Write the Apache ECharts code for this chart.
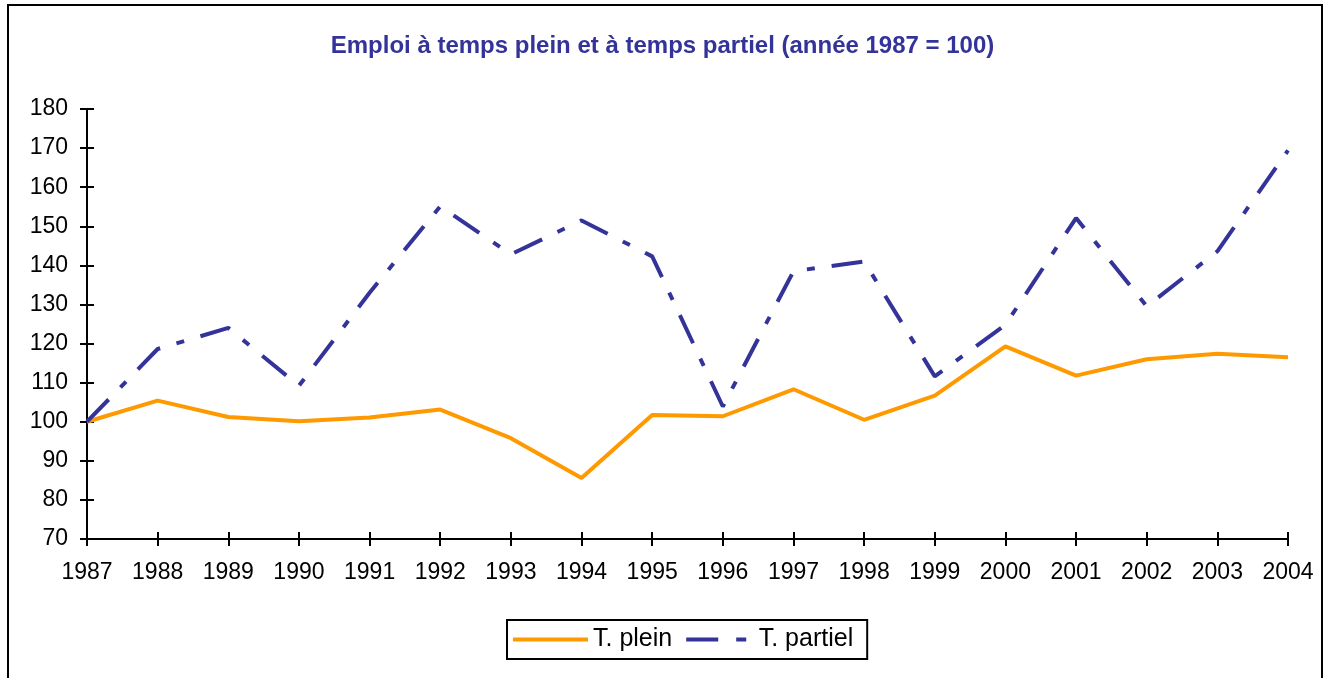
<!DOCTYPE html>
<html>
<head>
<meta charset="utf-8">
<script src="https://cdn.jsdelivr.net/npm/echarts@6/dist/echarts.min.js"></script>
<style>
  html, body { margin: 0; padding: 0; background: #fff; }
  #chart { width: 1325px; height: 678px; }
</style>
</head>
<body>
<div id="chart"></div>
<script>
// données
var years = ['1987', '1988', '1989', '1990', '1991', '1992', '1993', '1994', '1995',
  '1996', '1997', '1998', '1999', '2000', '2001', '2002', '2003', '2004']
var tPlein = [100, 105.4, 101.2, 100.1, 101.1, 103.1, 95.8, 85.6, 101.7,
  101.4, 108.3, 100.5, 106.7, 119.3, 111.8, 116.0, 117.4, 116.5]
var tPartiel = [100, 118.6, 124.0, 109.2, 133.0, 155.1, 142.8, 151.5, 142.3,
  103.9, 138.5, 141.0, 111.6, 124.8, 152.1, 129.5, 143.6, 169.4]
var yMin = 70
var yMax = 180
var yStep = 10

var font = 'Liberation Sans, Arial, sans-serif'
var axisColor = '#000'

// deux axes superposés pour avoir des graduations des deux côtés
function xAxisDef(inside, showLabel) {
  return {
    type: 'category',
    data: years,
    position: 'bottom',
    boundaryGap: false,
    axisLine: { show: true, lineStyle: { color: axisColor, width: 2 } },
    axisTick: { show: true, inside: inside, length: 7, lineStyle: { color: axisColor, width: 2 } },
    axisLabel: { show: showLabel, color: '#000', fontSize: 23, fontFamily: font, margin: 22 },
    splitLine: { show: false }
  }
}

function yAxisDef(inside, showLabel) {
  return {
    type: 'value',
    position: 'left',
    min: yMin,
    max: yMax,
    interval: yStep,
    axisLine: { show: true, lineStyle: { color: axisColor, width: 2 } },
    axisTick: { show: true, inside: inside, length: 7, lineStyle: { color: axisColor, width: 2 } },
    axisLabel: { show: showLabel, color: '#000', fontSize: 23, fontFamily: font, margin: 19 },
    splitLine: { show: false }
  }
}

var option = {
  animation: false,
  backgroundColor: '#fff',
  title: {
    text: 'Emploi à temps plein et à temps partiel (année 1987 = 100)',
    left: 'center',
    top: 29,
    textStyle: { color: '#333399', fontSize: 24, fontWeight: 'bold', fontFamily: font }
  },
  legend: {
    left: 507,
    top: 620,
    padding: [7, 14, 7, 6],
    borderColor: '#000',
    borderWidth: 2,
    itemWidth: 75,
    itemHeight: 4,
    itemGap: 14,
    textStyle: { color: '#000', fontSize: 25, fontFamily: font },
    data: [
      { name: 'T. plein', icon: 'path://M0 0H75V4H0Z' },
      { name: 'T. partiel', icon: 'path://M0 0H32V4H0Z M50 0H60V4H50Z' }
    ]
  },
  grid: { left: 87, right: 37, top: 109, bottom: 139 },
  xAxis: [xAxisDef(false, true), xAxisDef(true, false)],
  yAxis: [yAxisDef(false, true), yAxisDef(true, false)],
  graphic: [{
    type: 'rect',
    shape: { x: 8, y: 5, width: 1314, height: 700 },
    style: { fill: 'none', stroke: '#000', lineWidth: 2 },
    silent: true
  }],
  series: [{
    name: 'T. plein',
    type: 'line',
    data: tPlein,
    symbol: 'none',
    color: '#ff9900',
    lineStyle: { color: '#ff9900', width: 4 }
  }, {
    name: 'T. partiel',
    type: 'line',
    data: tPartiel,
    symbol: 'none',
    color: '#333399',
    lineStyle: { color: '#333399', width: 4, type: [31, 17, 8, 17] }
  }]
}

var chart = echarts.init(document.getElementById('chart'))
chart.setOption(option, true)
</script>
</body>
</html>
